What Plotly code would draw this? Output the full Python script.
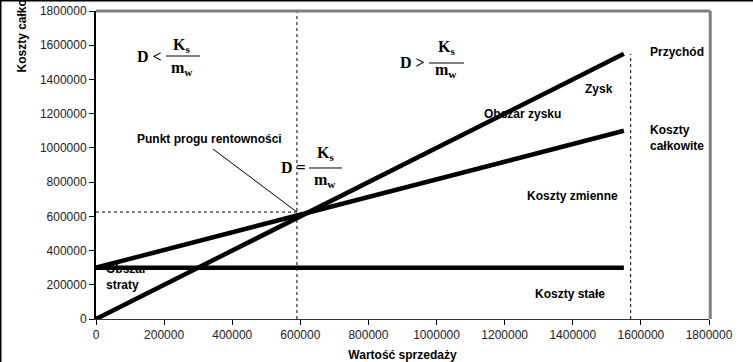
import plotly.graph_objects as go

# ---- data ----
sales = [0, 1550000]                 # Wartość sprzedaży
revenue = [0, 1550000]               # Przychód
total_costs = [300000, 1100000]      # Koszty całkowite
fixed_costs = [300000, 300000]       # Koszty stałe
break_even_x = 590000
break_even_y = 625000
max_sales_x = 1570000
tick_vals = [0, 200000, 400000, 600000, 800000, 1000000, 1200000, 1400000, 1600000, 1800000]

LBL = dict(family="Arial, Liberation Sans, sans-serif", size=12, color="black")
SERIF = dict(family="Liberation Serif, Times New Roman, serif", size=16, color="black")

fig = go.Figure()

# region labels drawn first so lines cover them
labels = [
    (1626700, 1554500, "<b>Przychód</b>"),
    (1435900, 1338300, "<b>Zysk</b>"),
    (1139300, 1192200, "<b>Obszar zysku</b>"),
    (1626700, 1051900, "<b>Koszty<br>całkowite</b>"),
    (1265500, 712000, "<b>Koszty zmienne</b>"),
    (120400, 1046100, "<b>Punkt progu rentowności</b>"),
    (29400, 240000, "<b>Obszar<br>straty</b>"),
    (1289000, 140300, "<b>Koszty stałe</b>"),
]
fig.add_trace(go.Scatter(
    x=[l[0] for l in labels], y=[l[1] for l in labels],
    text=[l[2] for l in labels], mode="text", textposition="middle right",
    textfont=LBL, showlegend=False, hoverinfo="skip"))

# dotted guide lines
fig.add_trace(go.Scatter(x=[break_even_x, break_even_x], y=[0, 1800000], mode="lines",
                         line=dict(color="black", width=1, dash="dot"), showlegend=False))
fig.add_trace(go.Scatter(x=[0, break_even_x], y=[break_even_y, break_even_y], mode="lines",
                         line=dict(color="black", width=1, dash="dot"), showlegend=False))
fig.add_trace(go.Scatter(x=[max_sales_x, max_sales_x], y=[0, 1550000], mode="lines",
                         line=dict(color="black", width=1, dash="dot"), showlegend=False))
# pointer
fig.add_trace(go.Scatter(x=[343500, break_even_x], y=[993500, break_even_y], mode="lines",
                         line=dict(color="black", width=1), showlegend=False))

# main lines
for ys in (revenue, total_costs, fixed_costs):
    fig.add_trace(go.Scatter(x=sales, y=ys, mode="lines",
                             line=dict(color="black", width=4.5), showlegend=False))

# formulas
def formula(op_x, op_y, sym, kx, ky, my, bx0, bx1, by):
    fig.add_annotation(x=op_x, y=op_y, xref="x", yref="y", text="<b>D " + sym + "</b>",
                       xanchor="right", yanchor="middle", showarrow=False, font=SERIF)
    fig.add_annotation(x=kx, y=ky, xref="x", yref="y", text="<b>K<sub>s</sub></b>",
                       xanchor="center", yanchor="middle", showarrow=False, font=SERIF)
    fig.add_annotation(x=kx, y=my, xref="x", yref="y", text="<b>m<sub>w</sub></b>",
                       xanchor="center", yanchor="middle", showarrow=False, font=SERIF)
    fig.add_shape(type="line", xref="x", yref="y", x0=bx0, x1=bx1, y0=by, y1=by,
                  line=dict(color="black", width=1))

formula(199700, 1537000, "&lt;", 252000, 1601300, 1466900, 205500, 305400, 1537000)
formula(971900, 1501900, "&gt;", 1029000, 1589600, 1455200, 977800, 1080600, 1496100)
formula(622500, 888300, "=", 673800, 970100, 812300, 625400, 722300, 882500)

# gray top/right frame
fig.add_shape(type="line", xref="paper", yref="paper", x0=0, x1=1.002, y0=1, y1=1,
              line=dict(color="#808080", width=3))
fig.add_shape(type="line", xref="paper", yref="paper", x0=1.002, x1=1.002, y0=0, y1=1,
              line=dict(color="#808080", width=3))
# black outer border (top & left)
fig.add_shape(type="line", xref="paper", yref="paper", x0=-96/613, x1=657/613,
              y0=1 + 10.5/308, y1=1 + 10.5/308, line=dict(color="black", width=2))
fig.add_shape(type="line", xref="paper", yref="paper", x0=-95.5/613, x1=-95.5/613,
              y0=-43/308, y1=1 + 11/308, line=dict(color="black", width=2))

# y-axis title (clipped at the top like the original)
fig.add_annotation(x=-74/613, y=(319 - 75) / 308, xref="paper", yref="paper",
                   text="<b>Koszty całkowite</b>", textangle=-90, xanchor="center",
                   yanchor="bottom", showarrow=False, font=LBL)

fig.update_layout(
    width=753, height=362,
    margin=dict(l=96, r=44, t=11, b=43, autoexpand=False),
    paper_bgcolor="white", plot_bgcolor="white",
    showlegend=False,
)
fig.update_xaxes(range=[0, 1800000], tickvals=tick_vals, tickformat="d", automargin=False,
                 showgrid=False, zeroline=False, showline=True, linecolor="#333333", linewidth=1,
                 ticks="outside", ticklen=5, tickcolor="black",
                 tickfont=dict(family="Arial, Liberation Sans, sans-serif", size=12, color="#222222"),
                 title=dict(text="<b>Wartość sprzedaży</b>", font=LBL, standoff=9))
fig.update_yaxes(range=[0, 1800000], tickvals=tick_vals, tickformat="d", automargin=False,
                 showgrid=False, zeroline=False, showline=True, linecolor="black", linewidth=2,
                 ticks="outside", ticklen=5, tickcolor="black",
                 tickfont=dict(family="Arial, Liberation Sans, sans-serif", size=12, color="#222222"))

fig.write_html("out.html", config={"displayModeBar": False},
               post_script="document.body.style.margin='0';document.body.style.overflow='hidden';")
